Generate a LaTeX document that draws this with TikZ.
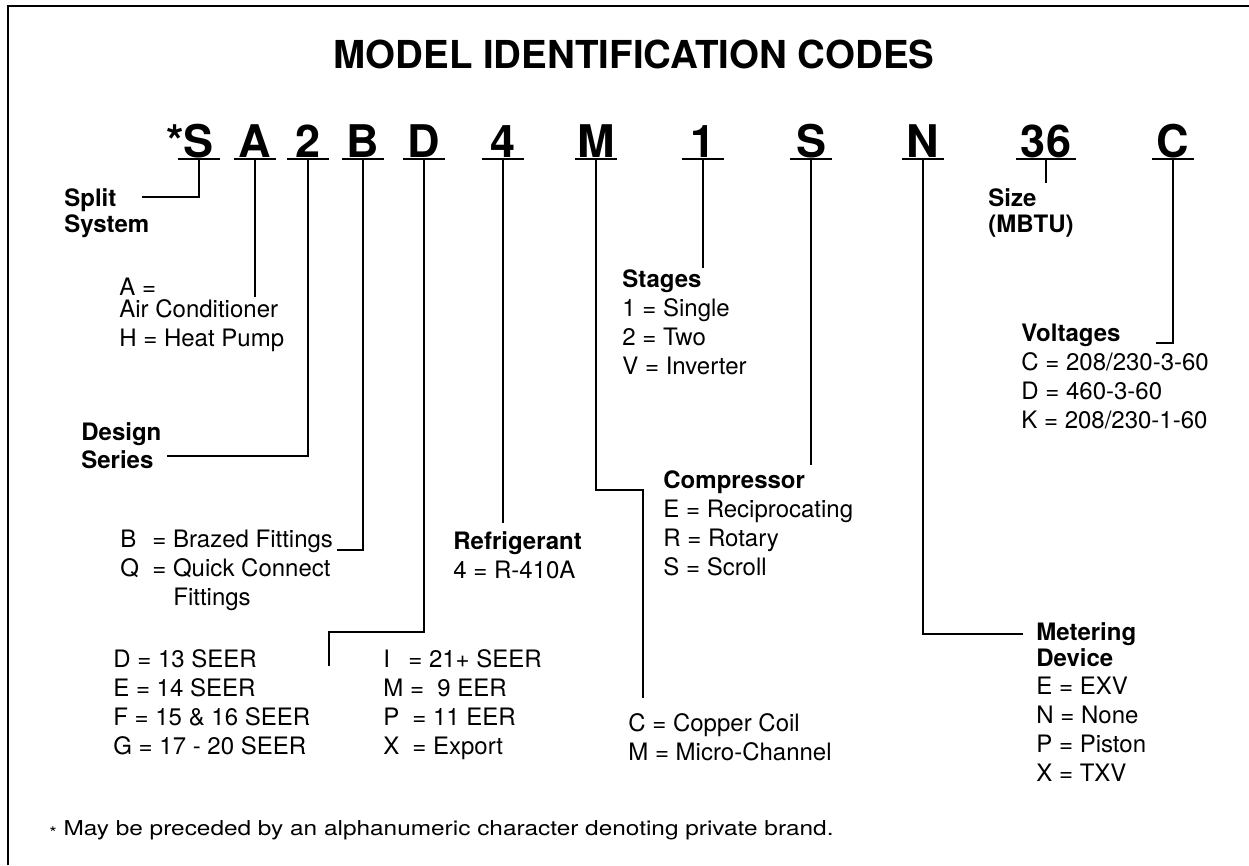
\documentclass[tikz,border=0pt]{standalone}
\usepackage{fontspec}
\setmainfont{TeX Gyre Heros}

\tikzset{every picture/.style={line width=0.75pt}}
\tikzset{
  codeletter/.style={anchor=base, inner sep=0pt, font=\fontsize{45}{45}\selectfont\bfseries},
  textblock/.style={anchor=base west, inner sep=0pt, align=left, font=\fontsize{24}{28.7}\selectfont},
  headblock/.style={textblock, font=\fontsize{24}{26}\selectfont\bfseries},
  leader/.style={line width=2pt},
  uline/.style={line width=2pt},
  frame/.style={line width=1.5pt}
}

\begin{document}
\begin{tikzpicture}[x=1pt,y=1pt,yscale=-1,xscale=1]
\useasboundingbox (0,0) rectangle (1249,865);

%Frame
\draw [frame] (8,865) -- (8,6) -- (1249,6);

% Title
\node [anchor=base, inner sep=0pt, font=\fontsize{38.5}{38.5}\selectfont\bfseries] (title) at (634,68) {MODEL IDENTIFICATION CODES};

% Code letters with underlines
\foreach \name/\xpos/\half/\txt in {s1/199/20.75/{\llap{*}S}, a/255/20.75/A, two/308/20.75/2, b/363/20.75/B,
    d/424/20.75/D, four/503/20.75/4, m/596/20.75/M, one/703/20.75/1, s2/811/20.75/S,
    n/923/20.75/N, size/1046/30/36, c/1173/20.75/C} {
  \node [codeletter] (c\name) at (\xpos,157) {\txt};
  \draw [uline] (\xpos-\half,159) -- (\xpos+\half,159);
  \coordinate (u\name) at (\xpos,159);
}

% Text Nodes (placed at the baseline of their last line)
\node [headblock] (split) at (64,232) {Split\\System};
% Text Node
\node [textblock] (aircond) at (119,346) {A =\\[-6.7pt]Air Conditioner\\H = Heat Pump};
% Text Node
\node [headblock, font=\fontsize{24}{28}\selectfont\bfseries] (design) at (81,468) {Design\\Series};
% Text Node
\node [textblock] (fittings) at (120,605) {\makebox[32pt][l]{B}= Brazed Fittings\\\makebox[32pt][l]{Q}= Quick Connect\\\hspace*{53pt}Fittings};
% Text Node
\node [textblock] (seer) at (113,754) {D = 13 SEER\\E = 14 SEER\\F = 15 \& 16 SEER\\G = 17 - 20 SEER};
% Text Node
\node [textblock] (eer) at (383,754) {\makebox[25pt][l]{I}= 21+ SEER\\M =\ \ 9 EER\\\makebox[29pt][l]{P}= 11 EER\\\makebox[29pt][l]{X}= Export};
% Text Node
\node [textblock] (refrig) at (453,578) {\textbf{Refrigerant}\\4 = R-410A};
% Text Node
\node [textblock] (stages) at (622,374) {\textbf{Stages}\\1 = Single\\2 = Two\\V = Inverter};
% Text Node
\node [textblock] (compr) at (663,575) {\textbf{Compressor}\\E = Reciprocating\\R = Rotary\\S = Scroll};
% Text Node
\node [textblock] (coil) at (628,760) {C = Copper Coil\\M = Micro-Channel};
% Text Node
\node [headblock] (size) at (988,232) {Size\\(MBTU)};
% Text Node
\node [textblock] (volt) at (1021,428) {\textbf{Voltages}\\C = 208/230-3-60\\D = 460-3-60\\K = 208/230-1-60};
% Text Node
\node [textblock] (meter) at (1036,781) {\textbf{Metering}\\[-2.7pt]\textbf{Device}\\E = EXV\\N = None\\P = Piston\\X = TXV};
% Text Node
\node [anchor=base west, inner sep=0pt, font=\fontsize{20.5}{24}\selectfont] (note) at (49,835)
  {\scalebox{1.19}[1]{\raisebox{-3pt}{\fontsize{16}{16}\selectfont*} May be preceded by an alphanumeric character denoting private brand.}};

% Leader ends
\coordinate (eSplit) at (142,197);
\coordinate (eA) at (255,297);
\coordinate (eDesign) at (167,456);
\coordinate (eB) at (337,550);
\coordinate (kD) at (329,632);
\coordinate (eD) at (329,666);
\coordinate (eFour) at (503,523);
\coordinate (kM) at (643,490);
\coordinate (eM) at (643,698);
\coordinate (eOne) at (703,268);
\coordinate (eS) at (811,465);
\coordinate (eN) at (1023,634);
\coordinate (eSize) at (1046,183);
\coordinate (eC) at (1156,343);

%Straight Lines
\draw [leader] (us1) |- (eSplit);
\draw [leader] (ua) -- (eA);
\draw [leader] (utwo) |- (eDesign);
\draw [leader] (ub) |- (eB);
\draw [leader] (ud) |- (kD) -- (eD);
\draw [leader] (ufour) -- (eFour);
\draw [leader] (um) |- (kM) -- (eM);
\draw [leader] (uone) -- (eOne);
\draw [leader] (us2) -- (eS);
\draw [leader] (un) |- (eN);
\draw [leader] (usize) -- (eSize);
\draw [leader] (uc) |- (eC);

\end{tikzpicture}
\end{document}
